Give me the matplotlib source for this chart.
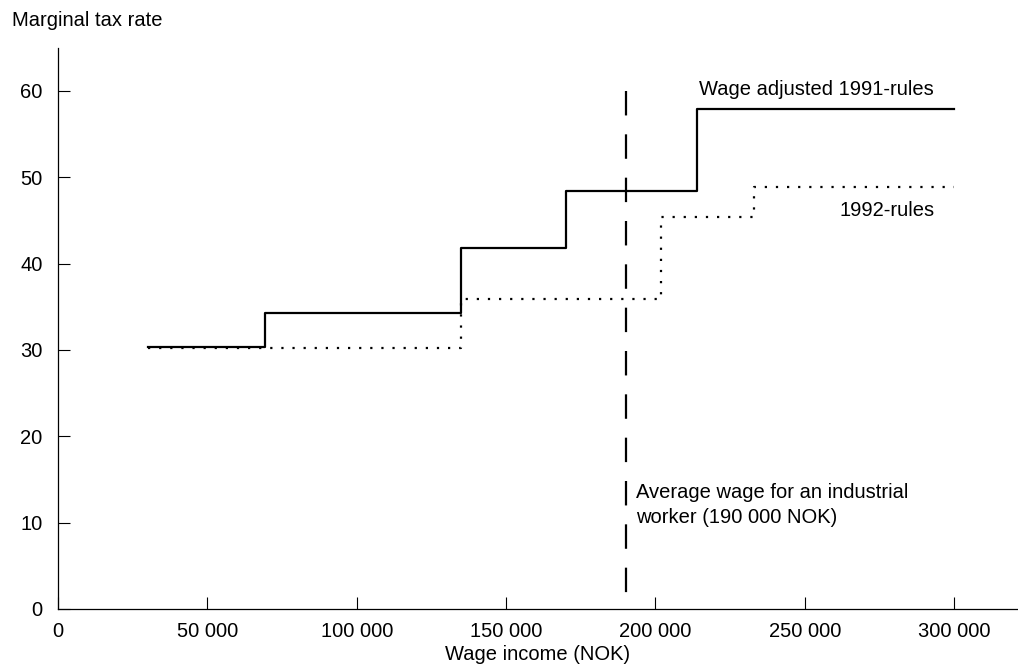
import matplotlib
matplotlib.use("Agg")
import matplotlib.pyplot as plt
from matplotlib.ticker import FuncFormatter

plt.rcParams['font.family'] = ['Liberation Sans', 'DejaVu Sans']

# Data
income_1991 = [30000, 69300, 135000, 170000, 214000, 300000]
rate_1991 = [30.3, 34.3, 41.8, 48.4, 57.9, 57.9]
income_1992 = [30000, 135000, 202000, 233000, 300000]
rate_1992 = [30.2, 35.9, 45.4, 48.9, 48.9]
avg_wage = 190000
x_ticks = [0, 50000, 100000, 150000, 200000, 250000, 300000]
y_ticks = [0, 10, 20, 30, 40, 50, 60]

FS = 14.5

fig = plt.figure(figsize=(10.18, 6.67), dpi=100)
ax = fig.add_axes([58/1018, (667-609)/667, (1018-58)/1018, (609-47.7)/667])

ax.step(income_1991, rate_1991, where='post', color='black', lw=1.6)
ax.step(income_1992, rate_1992, where='post', color='black', lw=1.6,
        linestyle=(0, (1, 4)))
ax.plot([avg_wage, avg_wage], [60, 0], color='black', lw=1.6,
        linestyle=(0, (11, 8.5)))

ax.set_xlim(0, 321400)
ax.set_ylim(0, 65)
ax.set_xticks(x_ticks)
ax.set_yticks(y_ticks)
ax.xaxis.set_major_formatter(FuncFormatter(lambda v, p: f"{int(v):,}".replace(",", " ")))
ax.tick_params(direction='in', length=8.6, width=0.8, labelsize=FS)
ax.tick_params(axis='x', pad=9.5)
ax.tick_params(axis='y', pad=11)
for s in ['top', 'right']:
    ax.spines[s].set_visible(False)
for s in ['left', 'bottom']:
    ax.spines[s].set_linewidth(0.9)

ax.set_xlabel("Wage income (NOK)", fontsize=FS, labelpad=2.6)
fig.text(12/1018, (667-26)/667, "Marginal tax rate", fontsize=FS, ha='left', va='baseline')

ax.text(214500, 59.54, "Wage adjusted 1991-rules", fontsize=FS, ha='left', va='baseline')
ax.text(293600, 45.56, "1992-rules", fontsize=FS, ha='right', va='baseline')
ax.text(193500, 12.89, "Average wage for an industrial", fontsize=FS, ha='left', va='baseline')
ax.text(193500, 9.96, "worker (190 000 NOK)", fontsize=FS, ha='left', va='baseline')

fig.savefig("out.png", dpi=100)
